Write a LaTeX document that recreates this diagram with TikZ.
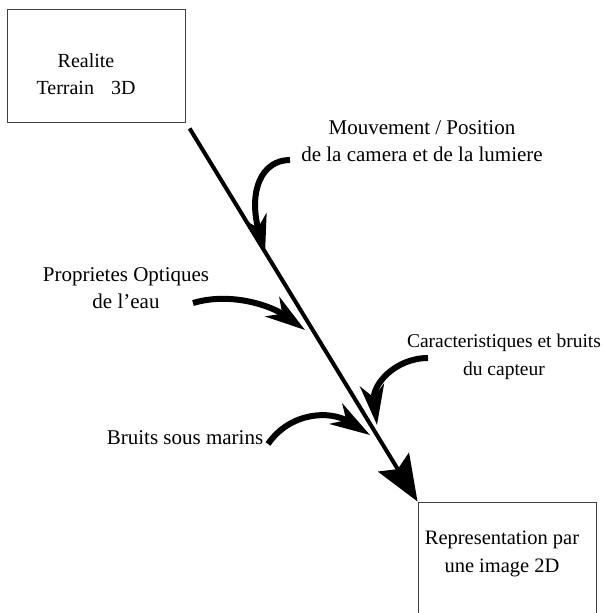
\documentclass[tikz,border=0pt]{standalone}
\usepackage{fontspec}
\setmainfont{Liberation Serif}
\usetikzlibrary{arrows.meta,positioning,calc}
\tikzset{
  framebox/.style={draw=black!75, line width=0.9pt, minimum width=178pt,
    minimum height=113pt, inner sep=0pt},
  caption/.style={align=center, font=\fontsize{21}{27.5}\selectfont, inner sep=0pt},
  mainarrow/.style={-{Stealth[length=46pt, width=36pt, inset=8pt]}, line width=4pt},
  bentarrow/.style={-{Stealth[length=40pt, width=24pt, inset=12pt]}, line width=6pt}
}
\begin{document}
\begin{tikzpicture}[x=1pt, y=-1pt]
    \useasboundingbox (0,0) rectangle (604,613);
    % boxes
    \node[framebox] (real) at (96.5,65.5) {};
    \node[caption, font=\fontsize{20}{27.5}\selectfont] (realtxt) at (86,74) {Realite\\Terrain\hspace{0.6em} 3D};
    \node[framebox, minimum height=118pt] (rep) at (507,561) {};
    \node[caption, font=\fontsize{20.5}{27.5}\selectfont] (reptxt) at (502,554) {Representation par\\une image 2D};
    % captions
    \node[caption] (mvt) at (422,141) {Mouvement / Position\\de la camera et de la lumiere};
    \node[caption] (optic) at (126,288) {Proprietes Optiques\\de l'eau};
    \node[caption, font=\fontsize{19.5}{27.5}\selectfont] (sensor) at (504,357) {Caracteristiques et bruits\\du capteur};
    \node[caption] (noise) at (185,438) {Bruits sous marins};
    % main flow
    \draw[mainarrow, shorten <=7pt] (real.south east) -- (rep.north west);
    % influences
    \coordinate (mvtout) at (290,160);
    \coordinate (mvtin) at (265,255);
    \coordinate (opticout) at (193,303);
    \coordinate (opticin) at (305,330);
    \coordinate (sensorout) at (428,358);
    \coordinate (sensorin) at (377,425);
    \coordinate (noiseout) at (268,444);
    \coordinate (noisein) at (370,435);
    \draw[bentarrow] (mvtout) .. controls (262,160) and (248,190) .. (mvtin);
    \draw[bentarrow] (opticout) .. controls (230,292) and (270,305) .. (opticin);
    \draw[bentarrow] (sensorout) .. controls (395,358) and (372,385) .. (sensorin);
    \draw[bentarrow] (noiseout) .. controls (290,412) and (330,410) .. (noisein);
\end{tikzpicture}
\end{document}
